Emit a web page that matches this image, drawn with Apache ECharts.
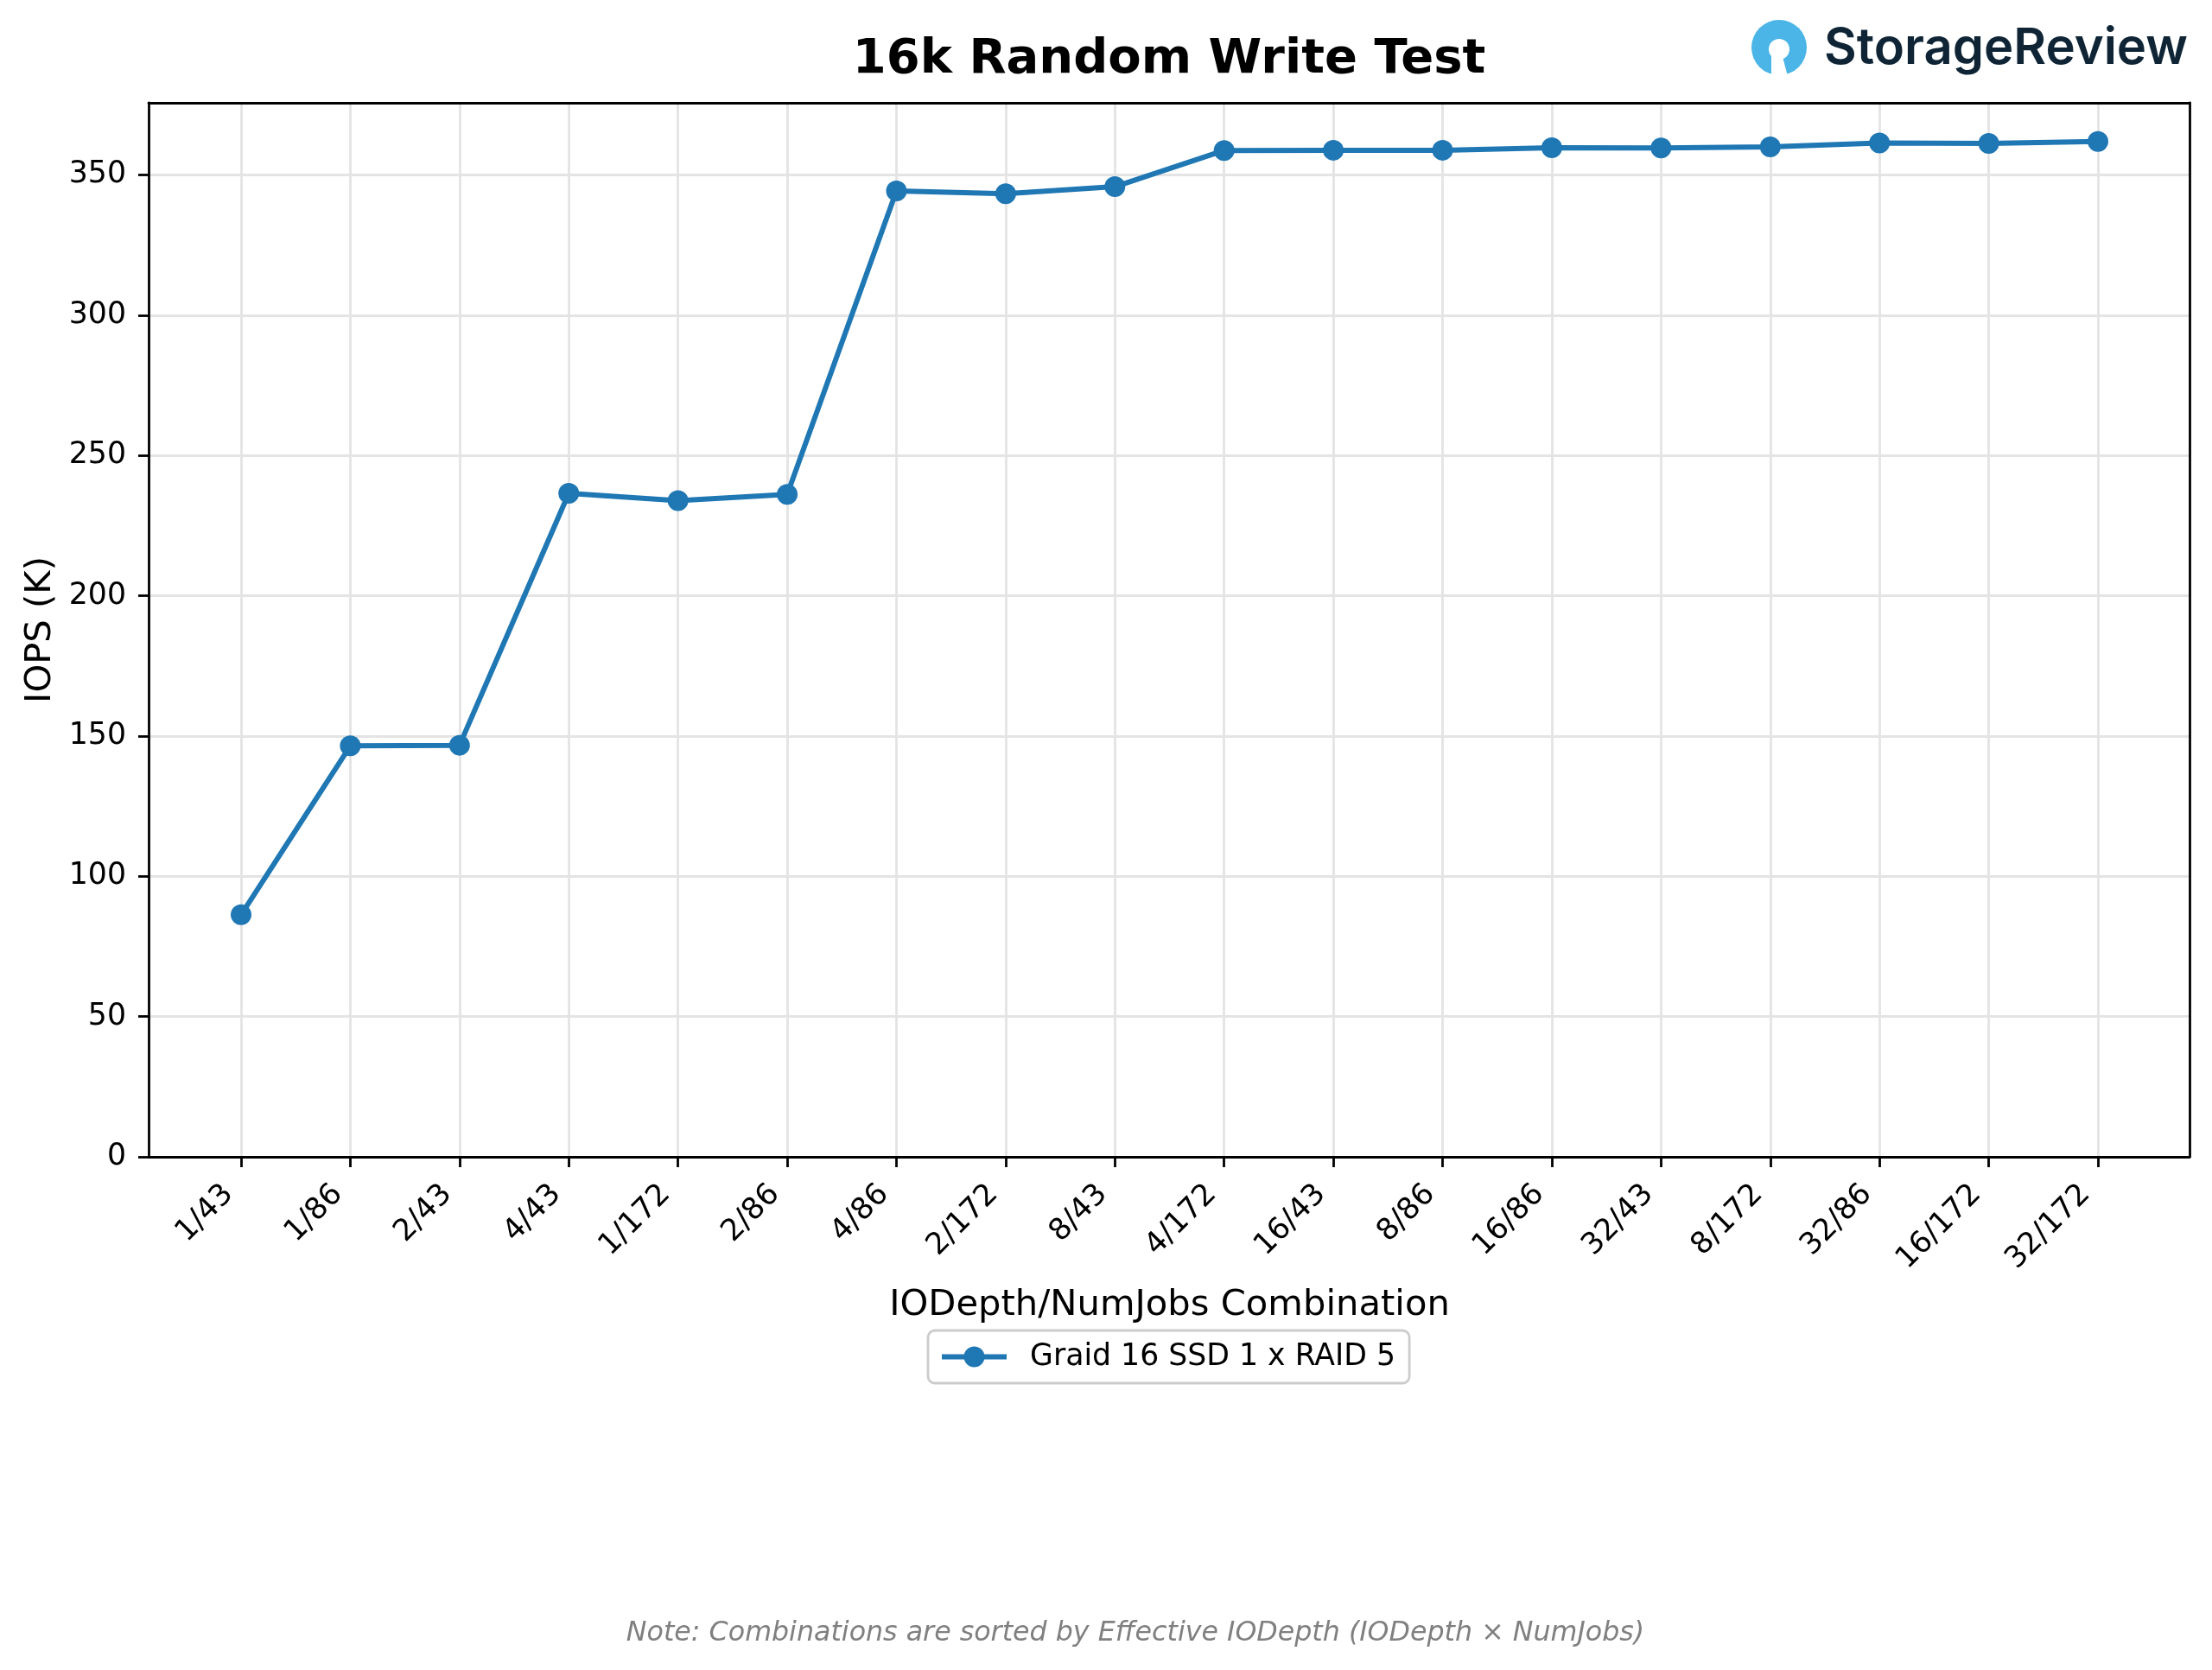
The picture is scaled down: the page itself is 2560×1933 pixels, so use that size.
<!DOCTYPE html>
<html>
<head>
<meta charset="utf-8">
<script src="https://cdn.jsdelivr.net/npm/echarts@6/dist/echarts.min.js"></script>
<style>
html,body{margin:0;padding:0;background:#fff;}
#chart{width:2560px;height:1933px;}
</style>
</head>
<body>
<div id="chart"></div>
<script>
const categories = ['1/43','1/86','2/43','4/43','1/172','2/86','4/86','2/172','8/43','4/172','16/43','8/86','16/86','32/43','8/172','32/86','16/172','32/172'];
const iops = [86.3,146.5,146.7,236.5,233.9,236.1,344.3,343.3,345.8,358.7,358.8,358.8,359.7,359.6,360.0,361.4,361.2,361.9];
const yTicks = [0,50,100,150,200,250,300,350];
const seriesName = 'Graid 16 SSD 1 x RAID 5';
const titleText = '16k Random Write Test';
const xName = 'IODepth/NumJobs Combination';
const yName = 'IOPS (K)';
const noteText = 'Note: Combinations are sorted by Effective IODepth (IODepth \u00d7 NumJobs)';
const yMax = 375.7;

const FONT = "'DejaVu Sans', sans-serif";
const chart = echarts.init(document.getElementById('chart'), null, {renderer:'canvas'});

const frameLine = {show:true, onZero:false, lineStyle:{color:'#000', width:2.8}};

const option = {
  animation: false,
  backgroundColor: '#ffffff',
  textStyle: {fontFamily: FONT},
  grid: [
    {left:172, right:26, top:119, bottom:594, show:false},
    {left:279, right:132, top:119, bottom:594, show:false}
  ],
  xAxis: [
    {type:'value', gridIndex:0, min:0, max:1, position:'bottom',
     axisLine:frameLine, axisTick:{show:false}, axisLabel:{show:false}, splitLine:{show:false}},
    {type:'category', gridIndex:1, data:categories, boundaryGap:false,
     axisLine:{show:true, lineStyle:{color:'#000', width:2.8}},
     axisTick:{show:true, length:12, lineStyle:{color:'#000', width:2.8}},
     axisLabel:{rotate:45, fontSize:34.7, color:'#000', fontFamily:FONT, margin:24, padding:[0,20,0,0], interval:0},
     splitLine:{show:true, lineStyle:{color:'#e4e4e4', width:2.8}},
     name:xName, nameLocation:'middle', nameGap:151,
     nameTextStyle:{fontSize:41.7, color:'#000', fontFamily:FONT}
    },
    {type:'value', gridIndex:0, min:0, max:1, position:'top',
     axisLine:frameLine, axisTick:{show:false}, axisLabel:{show:false}, splitLine:{show:false}}
  ],
  yAxis: [
    {type:'value', gridIndex:0, min:0, max:yMax, interval:50, position:'left',
     axisLine:{show:true, lineStyle:{color:'#000', width:2.8}},
     axisTick:{show:true, length:12, lineStyle:{color:'#000', width:2.8}, customValues:yTicks},
     axisLabel:{fontSize:34.7, color:'#000', fontFamily:FONT, margin:26, customValues:yTicks},
     splitLine:{show:true, lineStyle:{color:'#e4e4e4', width:2.8}},
     name:yName, nameLocation:'middle', nameGap:104, nameRotate:90,
     nameTextStyle:{fontSize:41.7, color:'#000', fontFamily:FONT}
    },
    {type:'value', gridIndex:1, min:0, max:yMax, show:false},
    {type:'value', gridIndex:0, min:0, max:yMax, position:'right',
     axisLine:frameLine, axisTick:{show:false}, axisLabel:{show:false}, splitLine:{show:false}}
  ],
  legend: {
    left:1074, top:1540,
    orient:'horizontal',
    padding:[13,16,13,13],
    borderColor:'#cccccc', borderWidth:2.8, borderRadius:8,
    backgroundColor:'rgba(255,255,255,0.8)',
    itemWidth:75, itemHeight:30,
    lineStyle:{width:6},
    textStyle:{fontSize:34.7, color:'#000', fontFamily:FONT, padding:[0,0,0,22]},
    data:[seriesName]
  },
  series: [
    {name:seriesName, type:'line', xAxisIndex:1, yAxisIndex:1, data:iops,
     symbol:'circle', symbolSize:24, showSymbol:true,
     lineStyle:{color:'#1f77b4', width:6},
     itemStyle:{color:'#1f77b4'},
     z:5
    }
  ],
  graphic: [
    {type:'text', x:1353, y:69, style:{text:titleText, font:"bold 56px 'DejaVu Sans'", fill:'#000', align:'center', verticalAlign:'middle'}},
    {type:'text', x:1314, y:1891, style:{text:noteText, font:"italic 31.7px 'DejaVu Sans'", fill:'#808080', align:'center', verticalAlign:'middle'}},
    {type:'group', children:[
      {type:'circle', shape:{cx:2059, cy:55, r:32}, style:{fill:'#4ab5e6'}},
      {type:'polygon', shape:{points:[[2050,62],[2050,92],[2070,92],[2062,62]]}, style:{fill:'#ffffff'}},
      {type:'circle', shape:{cx:2059, cy:57, r:12}, style:{fill:'#ffffff'}},
      {type:'text', x:2111, y:57, style:{text:'StorageReview', font:"600 58px Inter", fill:'#0f2536', align:'left', verticalAlign:'middle'}}
    ]}
  ]
};
chart.setOption(option);
</script>
</body>
</html>
